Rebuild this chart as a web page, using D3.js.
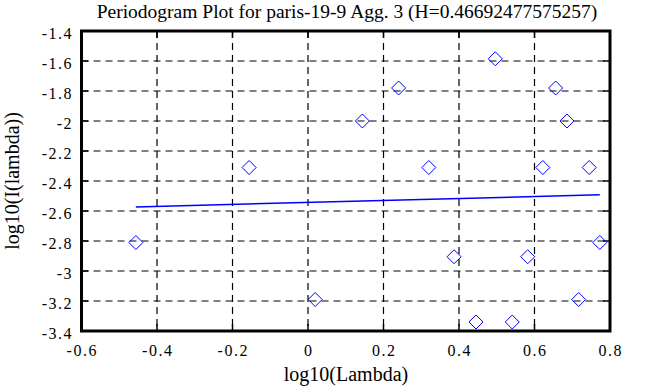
<!DOCTYPE html>
<html>
<head>
<meta charset="utf-8">
<script src="https://cdn.jsdelivr.net/npm/d3@7"></script>
<style>
  body { margin: 0; background: #fff; }
  svg { display: block; }
  text { font-family: "Liberation Serif", "DejaVu Serif", serif; fill: #000; }
</style>
</head>
<body>
<svg id="chart" width="647" height="387"></svg>
<script>
// datos
const titleText = "Periodogram Plot for paris-19-9 Agg. 3 (H=0.46692477575257)";
const xLabel = "log10(Lambda)";
const yLabel = "log10(I(lambda))";

const logLambda = [-0.456, -0.156, 0.019, 0.144, 0.240, 0.320, 0.387, 0.445, 0.496,
                   0.541, 0.582, 0.622, 0.656, 0.686, 0.717, 0.745, 0.773];
const logI      = [-2.81, -2.31, -3.19, -2.00, -1.78, -2.31, -2.905, -3.34, -1.585,
                   -3.34, -2.905, -2.31, -1.78, -2.00, -3.19, -2.31, -2.81];

// recta de ajuste (extremos)
const fitX = [-0.456, 0.773];
const fitY = [-2.573, -2.492];

const xTicks = [-0.6, -0.4, -0.2, 0, 0.2, 0.4, 0.6, 0.8];
const yTicks = [-1.4, -1.6, -1.8, -2, -2.2, -2.4, -2.6, -2.8, -3, -3.2, -3.4];

const svg = d3.select("#chart");
const m = { left: 81.5, right: 610, top: 31, bottom: 331 };

const x = d3.scaleLinear().domain([-0.6, 0.8]).range([m.left, m.right]);
const y = d3.scaleLinear().domain([-3.4, -1.4]).range([m.bottom, m.top]);

// rejilla
const grid = svg.append("g").attr("stroke", "#000").attr("stroke-width", 1.2)
  .attr("stroke-dasharray", "7,5");
grid.selectAll(".vg").data(xTicks.slice(1, -1)).enter().append("line")
  .attr("x1", d => x(d)).attr("x2", d => x(d))
  .attr("y1", m.top).attr("y2", m.bottom);
grid.selectAll(".hg").data(yTicks.slice(1, -1)).enter().append("line")
  .attr("y1", d => y(d)).attr("y2", d => y(d))
  .attr("x1", m.left).attr("x2", m.right);

// marcas interiores
const tk = 7;
const ticks = svg.append("g").attr("stroke", "#000").attr("stroke-width", 1.5);
xTicks.forEach(d => {
  ticks.append("line").attr("x1", x(d)).attr("x2", x(d)).attr("y1", m.bottom).attr("y2", m.bottom - tk);
  ticks.append("line").attr("x1", x(d)).attr("x2", x(d)).attr("y1", m.top).attr("y2", m.top + tk);
});
yTicks.forEach(d => {
  ticks.append("line").attr("y1", y(d)).attr("y2", y(d)).attr("x1", m.left).attr("x2", m.left + tk);
  ticks.append("line").attr("y1", y(d)).attr("y2", y(d)).attr("x1", m.right).attr("x2", m.right - tk);
});

// recta
svg.append("line")
  .attr("x1", x(fitX[0])).attr("y1", y(fitY[0]))
  .attr("x2", x(fitX[1])).attr("y2", y(fitY[1]))
  .attr("stroke", "#0000ff").attr("stroke-width", 1.5);

// rombos
const r = 7;
svg.append("g").selectAll("path").data(logLambda).enter().append("path")
  .attr("d", (d, i) => {
    const cx = x(d), cy = y(logI[i]);
    return `M${cx},${cy - r}L${cx + r},${cy}L${cx},${cy + r}L${cx - r},${cy}Z`;
  })
  .attr("fill", "none").attr("stroke", "#0000ff").attr("stroke-width", 1);

// marco
svg.append("rect")
  .attr("x", m.left).attr("y", m.top)
  .attr("width", m.right - m.left).attr("height", m.bottom - m.top)
  .attr("fill", "none").attr("stroke", "#000").attr("stroke-width", 3);

// etiquetas de ejes (guion normal, no signo menos)
const fmtTick = d => String(d);
svg.append("g").selectAll("text").data(xTicks).enter().append("text")
  .attr("x", d => x(d) + 0.75).attr("y", 356)
  .attr("text-anchor", "middle").attr("font-size", 16)
  .attr("letter-spacing", 1.5)
  .text(fmtTick);
svg.append("g").selectAll("text").data(yTicks).enter().append("text")
  .attr("x", 73).attr("y", d => y(d) + 7.5)
  .attr("text-anchor", "end").attr("font-size", 16)
  .attr("letter-spacing", 1.5)
  .text(fmtTick);

svg.append("text").attr("x", 347).attr("y", 17.5)
  .attr("text-anchor", "middle").attr("font-size", 19.5).text(titleText);
svg.append("text").attr("x", 346).attr("y", 381)
  .attr("text-anchor", "middle").attr("font-size", 20).text(xLabel);
svg.append("text").attr("transform", "translate(19,181) rotate(-90)")
  .attr("text-anchor", "middle").attr("font-size", 20).text(yLabel);
</script>
</body>
</html>
